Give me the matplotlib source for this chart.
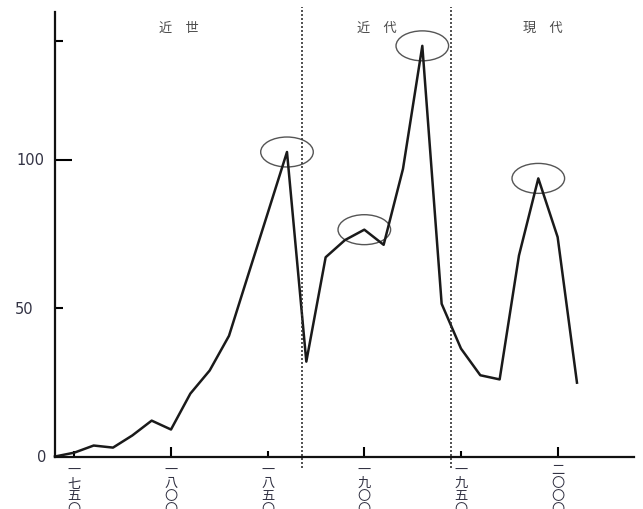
import matplotlib
matplotlib.use('Agg')
import matplotlib.pyplot as plt
from matplotlib.patches import Ellipse

plt.rcParams['font.family'] = ['Noto Sans CJK JP', 'DejaVu Sans']

# data (decades)
years = [1740, 1750, 1760, 1770, 1780, 1790, 1800, 1810, 1820, 1830, 1840, 1850,
         1860, 1870, 1880, 1890, 1900, 1910, 1920, 1930, 1940, 1950, 1960, 1970,
         1980, 1990, 2000, 2010]
values = [0, 1.3, 3.7, 3.0, 7.1, 12.1, 9.1, 21.2, 29.0, 40.7, 61.4, 82.0,
          102.7, 32.0, 67.2, 73.0, 76.5, 71.4, 97.0, 138.5, 51.5, 36.4, 27.4, 26.0,
          67.8, 93.8, 74.0, 24.9]

peak_years = [1860, 1900, 1930, 1990]   # circled points
boundaries = [1868, 1945]
periods = ['近\u3000世', '近\u3000代', '現\u3000代']

xticks_major = [1800, 1900, 2000]
xticks_minor = [1750, 1850, 1950]
xlabels = {1750: '一七五〇', 1800: '一八〇〇', 1850: '一八五〇',
           1900: '一九〇〇', 1950: '一九五〇', 2000: '二〇〇〇'}
yticks_major = [100]
yticks_minor = [50, 140]
ylabels = ['0', '50', '100']
ylabel_vals = [0, 50, 100]

xmin, xmax = 1740, 2039.5
ymin, ymax = 0, 150

fig = plt.figure(figsize=(6.43, 5.10), dpi=100)
ax = fig.add_axes([55/643, 1 - 457.5/510, (634 - 55)/643, (457.5 - 12.75)/510])

ax.plot(years, values, color='#1a1a1a', lw=1.8, clip_on=False)

# circles round the peaks
for yr in peak_years:
    v = values[years.index(yr)]
    ax.add_patch(Ellipse((yr, v), width=27.2, height=10.1, fill=False,
                         edgecolor='#555555', lw=1.0))

# period dividers
for b in boundaries:
    ax.axvline(b, ymin=-0.026, ymax=1.011, color='#333333', lw=1.2,
               linestyle=(0, (1.2, 1.2)), clip_on=False)

edges = [xmin] + boundaries + [xmax]
for i, name in enumerate(periods):
    mid = (edges[i] + edges[i + 1]) / 2
    ax.text(mid, 144.9, name, ha='center', va='center', fontsize=9.5,
            color='#4a4a4a')

ax.set_xlim(xmin, xmax)
ax.set_ylim(ymin, ymax)

for s in ['top', 'right']:
    ax.spines[s].set_visible(False)
for s in ['left', 'bottom']:
    ax.spines[s].set_linewidth(1.6)
    ax.spines[s].set_color('#111111')

ax.set_xticks(xticks_major)
ax.set_xticks(xticks_minor, minor=True)
ax.set_yticks(yticks_major)
ax.set_yticks(yticks_minor, minor=True)
ax.tick_params(axis='x', which='major', direction='in', length=7, width=1.5,
               labelbottom=False)
ax.tick_params(axis='x', which='minor', direction='in', length=4, width=1.5)
ax.tick_params(axis='y', which='major', direction='in', length=12, width=1.5,
               labelleft=False)
ax.tick_params(axis='y', which='minor', direction='in', length=6, width=1.5)

# vertical kanji year labels (cut off at the bottom, as in the original)
for yr, lab in xlabels.items():
    ax.text(yr, -0.014, '\n'.join(lab), transform=ax.get_xaxis_transform(),
            ha='center', va='top', fontsize=9.5, linespacing=1.0,
            color='#333344')

# numeric y labels (right edges as in the original)
label_x = [-0.0155, -0.038, -0.019]
for lab, v, lx in zip(ylabels, ylabel_vals, label_x):
    ax.text(lx, v, lab, transform=ax.get_yaxis_transform(), ha='right',
            va='center', fontsize=10.5, family='DejaVu Sans', color='#333344')

fig.savefig('out.png', dpi=100)
